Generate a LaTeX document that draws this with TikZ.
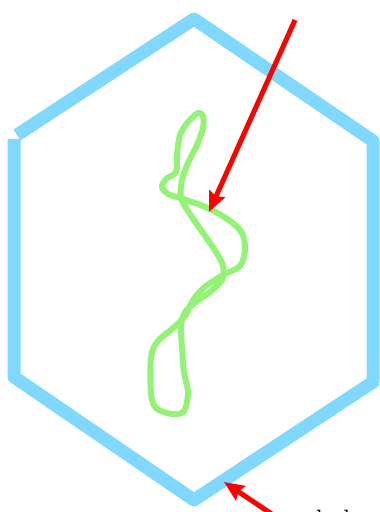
\documentclass[tikz,border=0pt]{standalone}
\usetikzlibrary{arrows.meta}
\definecolor{hexblue}{RGB}{128,216,255}
\definecolor{squiggle}{RGB}{148,242,118}
\tikzset{
  hexline/.style={draw=hexblue, line width=13pt, line join=round},
  greenline/.style={draw=squiggle, line width=6pt, line join=round},
  redarrow/.style={draw=red, line width=5pt, -{Stealth[length=20pt,width=17pt,inset=3pt]}},
  labeltext/.style={font=\fontsize{28}{30}\selectfont, text=black, inner sep=0pt}
}
\begin{document}
\begin{tikzpicture}[x=1pt,y=-1pt]
\useasboundingbox (0,0) rectangle (380,512);
% hexagon (open at upper left)
\draw[hexline] (14,139) -- (14,377) -- (194,500) -- (373,382) -- (373,141) -- (194,19) -- (17,135);
% green squiggle
\draw[greenline] plot[smooth cycle, tension=0.55] coordinates {
 (198,113) (188,122) (180,135) (177,155) (176,172) (166,179) (162,187) (168,194)
 (180,198) (195,203) (212,210) (230,221) (242,233) (245,250) (240,266) (225,274)
 (206,286) (193,300) (185,316) (172,329) (157,342) (151,358) (151,393) (156,408)
 (172,414) (184,411) (188,392) (184,372) (182,347) (181,326) (185,312) (196,302)
 (210,292) (222,280) (223,266) (216,252) (203,233) (190,214) (181,198) (182,180)
 (188,163) (197,145) (203,128) (203,116)};
% red arrows
\coordinate (a1s) at (295,20);
\coordinate (a1e) at (209,212);
\draw[redarrow] (a1s) -- (a1e);
\coordinate (a2s) at (303,535);
\coordinate (a2e) at (224,482);
\draw[redarrow] (a2s) -- (a2e);
% partially visible label
\node[labeltext, anchor=north west] (lbl) at (316,509.5) {hole};
\end{tikzpicture}
\end{document}
